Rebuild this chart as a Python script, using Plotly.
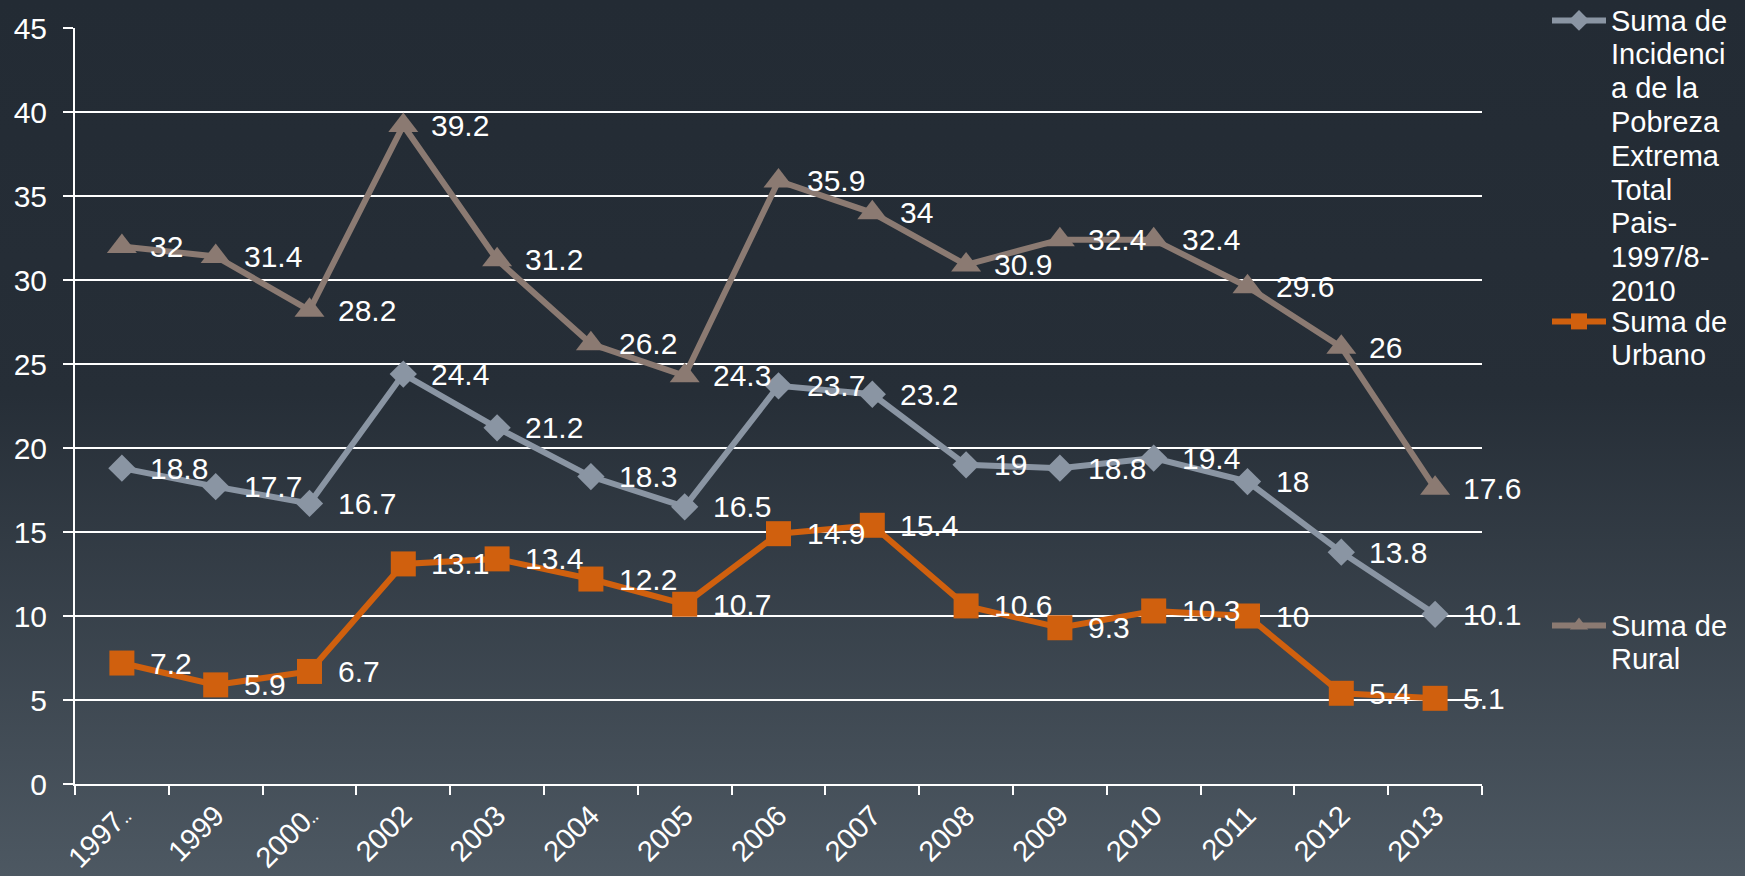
import plotly.graph_objects as go

categories = ["1997‥", "1999", "2000‥", "2002", "2003", "2004", "2005", "2006",
              "2007", "2008", "2009", "2010", "2011", "2012", "2013"]
total = [18.8, 17.7, 16.7, 24.4, 21.2, 18.3, 16.5, 23.7, 23.2, 19, 18.8, 19.4, 18, 13.8, 10.1]
urbano = [7.2, 5.9, 6.7, 13.1, 13.4, 12.2, 10.7, 14.9, 15.4, 10.6, 9.3, 10.3, 10, 5.4, 5.1]
rural = [32, 31.4, 28.2, 39.2, 31.2, 26.2, 24.3, 35.9, 34, 30.9, 32.4, 32.4, 29.6, 26, 17.6]

name_lines = [
    ["Suma de", "Incidenci", "a de la", "Pobreza", "Extrema", "Total", "Pais-", "1997/8-", "2010"],
    ["Suma de", "Urbano"],
    ["Suma de", "Rural"],
]

W, H = 1745, 876
ML, MR, MT, MB = 75, 263, 28, 92
FONT = "Arial, Liberation Sans, sans-serif"
FS = 30
LFS = 29


def legend_name(lines):
    return "<br>".join(f"<span style='font-size:{LFS}px'>{t}</span>" for t in lines)


def tick_label(c):
    # truncated labels: draw the dots smaller, as the source chart does
    return c.replace("‥", "<span style='font-size:17px'>‥</span>")


fig = go.Figure()

series = [
    (total, name_lines[0], "#8a95a3", "diamond", 21, "legend"),
    (urbano, name_lines[1], "#d0600e", "square", 25, "legend2"),
    (rural, name_lines[2], "#8b7a72", "triangle-up", 26, "legend3"),
]
for vals, lines, color, sym, size, leg in series:
    fig.add_trace(go.Scatter(
        x=categories, y=vals, name=legend_name(lines), mode="lines+markers",
        line=dict(color=color, width=6),
        marker=dict(symbol=sym, size=size, color=color, line=dict(width=0)),
        legend=leg,
    ))

annotations = []
for vals, *_ in series:
    for i, v in enumerate(vals):
        annotations.append(dict(
            x=i, y=v, xref="x", yref="y", text=f"{v:g}", showarrow=False,
            xanchor="left", yanchor="middle", xshift=26,
            font=dict(family=FONT, size=FS, color="white"),
        ))

pw = W - ML - MR
ph = H - MT - MB
svg = ("data:image/svg+xml;utf8,<svg xmlns='http://www.w3.org/2000/svg' width='10' height='100' "
       "preserveAspectRatio='none'><defs><linearGradient id='g' x1='0' y1='0' x2='0' y2='1'>"
       "<stop offset='0' stop-color='%23232b34'/><stop offset='0.45' stop-color='%23262e37'/>"
       "<stop offset='1' stop-color='%234d5862'/></linearGradient></defs>"
       "<rect width='10' height='100' fill='url(%23g)'/></svg>")

legend_common = dict(
    xref="container", yref="paper", xanchor="left", yanchor="top",
    font=dict(family=FONT, size=26, color="white"), bgcolor="rgba(0,0,0,0)",
    valign="top", itemwidth=54, tracegroupgap=0, borderwidth=0,
)


def ly(px_top):
    return 1 + (MT - px_top) / ph


fig.update_layout(
    width=W, height=H,
    margin=dict(l=ML, r=MR, t=MT, b=MB, autoexpand=False),
    paper_bgcolor="#232b34", plot_bgcolor="rgba(0,0,0,0)",
    font=dict(family=FONT, size=FS, color="white"),
    showlegend=True,
    legend=dict(x=1547 / W, y=ly(-3), **legend_common),
    legend2=dict(x=1547 / W, y=ly(298), **legend_common),
    legend3=dict(x=1547 / W, y=ly(602), **legend_common),
    images=[dict(source=svg, xref="paper", yref="paper", x=-ML / pw, y=1 + MT / ph,
                 sizex=W / pw, sizey=H / ph, sizing="stretch", layer="below",
                 xanchor="left", yanchor="top")],
    xaxis=dict(
        type="category", range=[-0.5, 14.5], showgrid=False,
        showline=True, linecolor="white", linewidth=2,
        ticks="outside", tickson="boundaries", ticklen=9, tickwidth=2, tickcolor="white",
        tickangle=-45, ticklabelstandoff=1,
        tickvals=categories, ticktext=[tick_label(c) for c in categories],
        tickfont=dict(family=FONT, size=FS - 1, color="white"),
    ),
    yaxis=dict(
        range=[0, 45], dtick=5, showgrid=True, gridcolor="white", gridwidth=2,
        showline=True, linecolor="white", linewidth=2, zeroline=False,
        ticks="outside", ticklen=10, tickwidth=2, tickcolor="white",
        ticklabelstandoff=10,
        tickfont=dict(family=FONT, size=FS, color="white"),
    ),
    annotations=annotations,
)

fig.write_html(
    "out.html",
    config={"displayModeBar": False},
    post_script="document.body.style.margin='0';document.body.style.overflow='hidden';"
                "document.documentElement.style.background='#232b34';",
)
